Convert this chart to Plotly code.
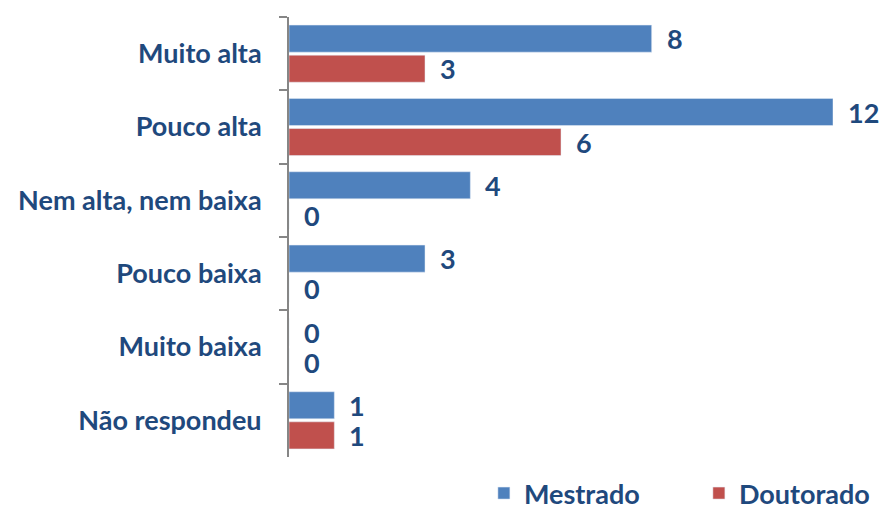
import plotly.graph_objects as go

categories = ["Muito alta", "Pouco alta", "Nem alta, nem baixa", "Pouco baixa", "Muito baixa", "Não respondeu"]
mestrado = [8, 12, 4, 3, 0, 1]
doutorado = [3, 6, 0, 0, 0, 1]

BLUE = "#4F81BD"
RED = "#C0504D"
TXT = "#1F497D"
FONT = "Lato"
FS = 27

fig = go.Figure()
fig.add_trace(go.Bar(y=categories, x=mestrado, orientation="h", name="Mestrado",
                     marker=dict(color=BLUE)))
fig.add_trace(go.Bar(y=categories, x=doutorado, orientation="h", name="Doutorado",
                     marker=dict(color=RED)))

# rótulos de valor à direita das barras
for cat, m, d in zip(categories, mestrado, doutorado):
    for val, shift in ((m, 15), (d, -15)):
        fig.add_annotation(x=val, y=cat, text=str(val), showarrow=False,
                           xanchor="left", xshift=13, yshift=shift,
                           font=dict(family=FONT, size=FS, color=TXT, weight="bold"))

fig.update_layout(
    width=883, height=518,
    margin=dict(l=289, r=50, t=17, b=61),
    plot_bgcolor="white", paper_bgcolor="white",
    barmode="group", bargap=0.18, bargroupgap=0.1,
    font=dict(family=FONT, size=FS, color=TXT, weight="bold"),
    xaxis=dict(range=[0, 12], visible=False),
    yaxis=dict(autorange="reversed", showline=True, linecolor="#868686", linewidth=2,
               ticks="outside", tickson="boundaries", ticklen=8, tickwidth=2,
               tickcolor="#868686", ticklabelstandoff=20,
               tickfont=dict(family=FONT, size=FS, color=TXT, weight="bold")),
    legend=dict(orientation="h", xref="container", yref="container",
                x=0.548, xanchor="left", y=0, yanchor="bottom",
                entrywidth=170, font=dict(family=FONT, size=FS, color=TXT, weight="bold")),
)

fig.write_html("out.html", config={"displayModeBar": False})

# tira a margem de 8px do body para a figura ocupar a janela toda
with open("out.html", encoding="utf-8") as f:
    html = f.read()
html = html.replace("<body>", '<body style="margin:0;overflow:hidden">', 1)
with open("out.html", "w", encoding="utf-8") as f:
    f.write(html)
